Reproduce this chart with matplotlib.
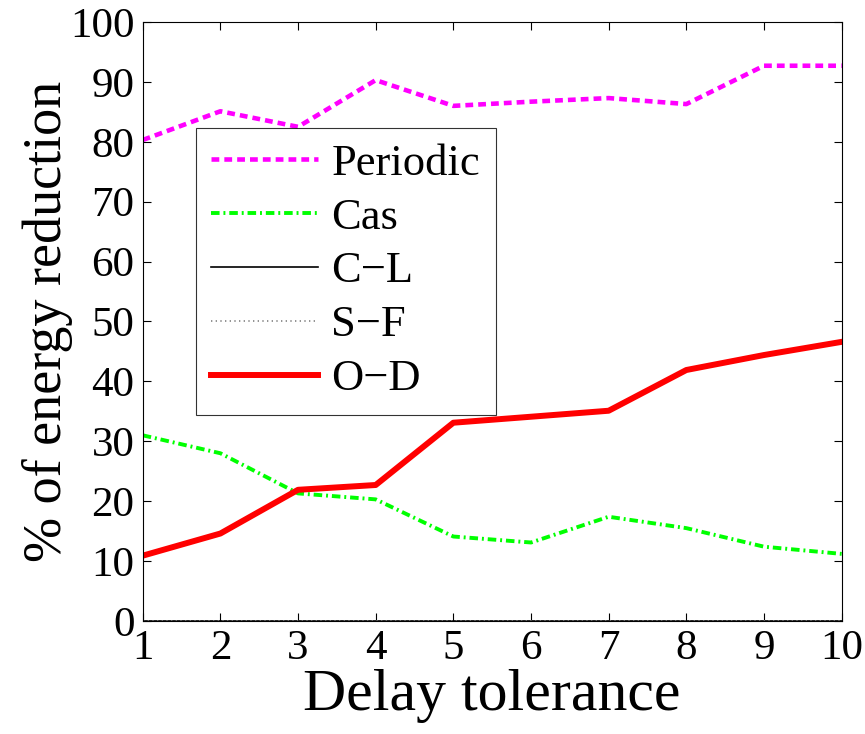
import matplotlib
matplotlib.use("Agg")
import matplotlib.pyplot as plt

delay = [1, 2, 3, 4, 5, 6, 7, 8, 9, 10]
periodic = [80.3, 85.1, 82.5, 90.3, 86.0, 86.7, 87.3, 86.3, 92.7, 92.7]
cas = [31.0, 28.0, 21.3, 20.3, 14.1, 13.1, 17.4, 15.5, 12.4, 11.2]
cl = [0, 0, 0, 0, 0, 0, 0, 0, 0, 0]
sf = [0, 0, 0, 0, 0, 0, 0, 0, 0, 0]
od = [10.9, 14.6, 21.9, 22.7, 33.1, 34.1, 35.1, 41.9, 44.4, 46.6]

plt.rcParams["font.family"] = ["Liberation Serif", "DejaVu Serif"]

fig = plt.figure(figsize=(8.65, 7.34), dpi=100)
ax = fig.add_axes([0.165, 0.154, 0.808, 0.816])

ax.plot(delay, periodic, color="#ff00ff", lw=3.3, ls=(0, (1.7, 1.1)), label="Periodic")
ax.plot(delay, cas, color="#00ff00", lw=2.8, ls=(0, (2.2, 1.0, 0.5, 1.0)), label="Cas")
ax.plot(delay, cl, color="black", lw=1.2, ls="-", label="C\u2212L")
ax.plot(delay, sf, color="#808080", lw=1.2, ls=(0, (0.8, 2)), label="S\u2212F")
ax.plot(delay, od, color="#ff0000", lw=4.3, ls="-", label="O\u2212D")

ax.set_xlim(1, 10)
ax.set_ylim(0, 100)
ax.set_xticks(delay)
ax.set_yticks(range(0, 101, 10))
ax.tick_params(direction="in", top=True, right=True, labelsize=31, length=6, pad=6)
for s in ax.spines.values():
    s.set_linewidth(0.8)

ax.set_xlabel("Delay tolerance", fontsize=43, labelpad=1)
ax.set_ylabel("% of energy reduction", fontsize=39, labelpad=-2)

leg = ax.legend(loc="upper left", bbox_to_anchor=(0.076, 0.823), fontsize=32,
                frameon=True, fancybox=False, edgecolor="black", handlelength=2.4,
                borderpad=0.35, labelspacing=0.31, handletextpad=0.3, borderaxespad=0)
leg.get_frame().set_linewidth(0.8)

fig.savefig("out.png", dpi=100)
